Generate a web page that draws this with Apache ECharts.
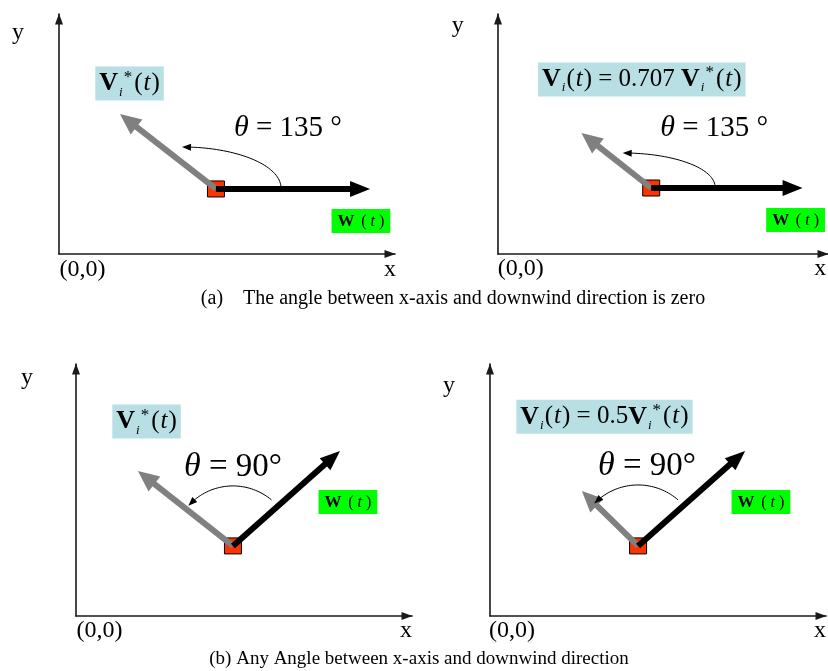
<!DOCTYPE html>
<html>
<head>
<meta charset="utf-8">
<script src="https://cdn.jsdelivr.net/npm/echarts@6/dist/echarts.min.js"></script>
<style>
html, body { margin: 0; padding: 0; background: #fff; }
#main { width: 828px; height: 671px; }
</style>
</head>
<body>
<div id="main"></div>
<script>
// panels: (a) left, (a) right, (b) left, (b) right  -- units on both axes are equal
const origins  = [[6.54, 2.71], [6.5, 2.75], [6.54, 2.92], [6.17, 2.92]];
const windTips = [[12.96, 2.71], [12.92, 2.75], [11.0, 6.88], [10.63, 6.88]];
const velTips  = [[2.54, 5.83], [3.54, 5.04], [2.58, 6.04], [3.83, 5.21]];
// angle arc: centre x, centre y, radius x, radius y, start deg, end deg
const arcs = [
  [5.125, 2.75, 4.125, 1.71, 0, 90],
  [5.29, 2.79, 3.92, 1.42, 0, 90],
  [6.54, 2.92, 2.5, 2.5, 50, 138],
  [6.17, 2.92, 2.54, 2.54, 49, 136]
];
const thetaText = ['135 °', '135 °', '90°', '90°'];
const thetaSize = [30, 30, 34, 34];
const thetaPos  = [[9.54, 5.25], [9.17, 5.25], [6.54, 6.2], [6.54, 6.23]];
const velText = [
  '{V|V}{i|i}{s|*}{p|(}{t|t}{p|)}',
  '{V|V}{i|i}{p|(}{t|t}{p|) = 0.707 }{V|V}{i|i}{s|*}{p|(}{t|t}{p|)}',
  '{V|V}{i|i}{s|*}{p|(}{t|t}{p|)}',
  '{V|V}{i|i}{p|(}{t|t}{p|) = 0.5}{V|V}{i|i}{s|*}{p|(}{t|t}{p|)}'
];
const velPos  = [[2.94, 7.1], [6.1, 7.27], [2.94, 8.1], [4.77, 8.3]];
const windPos = [[12.58, 1.375], [12.625, 1.42], [11.33, 4.75], [11.29, 4.75]];
const yNamePos = [[-1.71, 9.21], [-1.71, 9.5], [-2.04, 9.92], [-1.71, 9.6]];
const xNamePos = [[13.79, -0.67], [13.67, -0.6], [13.75, -0.625], [13.75, -0.625]];
const zeroPos  = [[0.98, -0.67], [0.96, -0.6], [0.98, -0.625], [0.92, -0.625]];
const captions = [
  '(a)    The angle between x-axis and downwind direction is zero',
  '(b) Any Angle between x-axis and downwind direction'
];

const SERIF = '"Liberation Serif", "Times New Roman", serif';
const chart = echarts.init(document.getElementById('main'));

const grids = [
  { left: 59, top: 14, width: 336, height: 240 },
  { left: 498, top: 14, width: 336, height: 240 },
  { left: 76, top: 364, width: 336, height: 252 },
  { left: 490, top: 364, width: 336, height: 252 }
];
const yMax = [10, 10, 10.5, 10.5];

function axisStyle(i, max) {
  return {
    gridIndex: i, type: 'value', min: 0, max: max,
    axisLine: {
      show: true, onZero: false,
      symbol: ['none', 'triangle'], symbolSize: [8, 11], symbolOffset: [0, -5],
      lineStyle: { color: '#1a1a1a', width: 1.6 }
    },
    axisTick: { show: false }, axisLabel: { show: false }, splitLine: { show: false }
  };
}

function arrowItem(shaft, headLen, headW, color) {
  return function (params, api) {
    const a = api.coord([api.value(0), api.value(1)]);
    const b = api.coord([api.value(2), api.value(3)]);
    const dx = b[0] - a[0], dy = b[1] - a[1];
    const len = Math.hypot(dx, dy);
    const ux = dx / len, uy = dy / len;
    const bx = b[0] - ux * headLen, by = b[1] - uy * headLen;
    return {
      type: 'group',
      children: [
        { type: 'line', shape: { x1: a[0], y1: a[1], x2: bx + ux, y2: by + uy },
          style: { stroke: color, lineWidth: shaft } },
        { type: 'polygon',
          shape: { points: [[b[0], b[1]], [bx - uy * headW / 2, by + ux * headW / 2], [bx + uy * headW / 2, by - ux * headW / 2]] },
          style: { fill: color } }
      ]
    };
  };
}

function squareItem(params, api) {
  const p = api.coord([api.value(0), api.value(1)]);
  return { type: 'rect', shape: { x: p[0] - 8.5, y: p[1] - 8, width: 17, height: 16 },
    style: { fill: '#ff3300', stroke: '#000', lineWidth: 1 } };
}

function arcItem(params, api) {
  const cx = api.value(0), cy = api.value(1), rx = api.value(2), ry = api.value(3);
  const a0 = api.value(4) * Math.PI / 180, a1 = api.value(5) * Math.PI / 180;
  const pts = [];
  for (let k = 0; k <= 40; k++) {
    const t = a0 + (a1 - a0) * k / 40;
    pts.push(api.coord([cx + rx * Math.cos(t), cy + ry * Math.sin(t)]));
  }
  const tip = pts[pts.length - 1], prev = pts[pts.length - 4];
  const dx = tip[0] - prev[0], dy = tip[1] - prev[1], l = Math.hypot(dx, dy);
  const ux = dx / l, uy = dy / l, hl = 9, hw = 7;
  const bx = tip[0] - ux * hl, by = tip[1] - uy * hl;
  return {
    type: 'group',
    children: [
      { type: 'polyline', shape: { points: pts.slice(0, -2) }, style: { stroke: '#000', lineWidth: 1, fill: null } },
      { type: 'polygon', shape: { points: [tip, [bx - uy * hw / 2, by + ux * hw / 2], [bx + uy * hw / 2, by - ux * hw / 2]] },
        style: { fill: '#000' } }
    ]
  };
}

const velRich = {
  V: { fontFamily: SERIF, fontWeight: 'bold', fontSize: 26, lineHeight: 30 },
  i: { fontFamily: SERIF, fontStyle: 'italic', fontSize: 13, verticalAlign: 'bottom', lineHeight: 14, padding: [0, 1, 0, 1] },
  s: { fontFamily: SERIF, fontSize: 17, verticalAlign: 'top', lineHeight: 15, padding: [0, 2, 0, 0] },
  p: { fontFamily: SERIF, fontSize: 25, lineHeight: 30 },
  t: { fontFamily: SERIF, fontStyle: 'italic', fontSize: 25, lineHeight: 30, padding: [0, 1, 0, 1] }
};

function textItem(getText, extra) {
  return function (params, api) {
    const p = api.coord([api.value(0), api.value(1)]);
    return {
      type: 'text', x: p[0], y: p[1],
      style: Object.assign({ text: getText(params.seriesIndex, params.dataIndex), align: 'center',
        verticalAlign: 'middle', fill: '#000' }, extra)
    };
  };
}

const xAxes = [], yAxes = [], series = [];
for (let i = 0; i < 4; i++) {
  xAxes.push(axisStyle(i, 14));
  yAxes.push(axisStyle(i, yMax[i]));
  const ax = { xAxisIndex: i, yAxisIndex: i, silent: true, clip: false };
  series.push(Object.assign({ type: 'custom', z: 2, renderItem: squareItem, data: [origins[i]] }, ax));
  series.push(Object.assign({ type: 'custom', z: 3, renderItem: arrowItem(6, 21, 19, '#808080'),
    data: [[origins[i][0], origins[i][1], velTips[i][0], velTips[i][1]]] }, ax));
  series.push(Object.assign({ type: 'custom', z: 4, renderItem: arrowItem(6, 20, 16, '#000'),
    data: [[origins[i][0], origins[i][1], windTips[i][0], windTips[i][1]]] }, ax));
  series.push(Object.assign({ type: 'custom', z: 4, renderItem: arcItem, data: [arcs[i]] }, ax));
  series.push(Object.assign({ type: 'custom', z: 5,
    renderItem: textItem(() => '{th|θ}{r| = ' + thetaText[i] + '}', {
      rich: {
        th: { fontFamily: SERIF, fontStyle: 'italic', fontSize: thetaSize[i] },
        r: { fontFamily: SERIF, fontSize: thetaSize[i] - 1 }
      }
    }), data: [thetaPos[i]] }, ax));
  series.push(Object.assign({ type: 'custom', z: 5,
    renderItem: textItem(() => velText[i], { rich: velRich, backgroundColor: '#b8dfe3', padding: [2, 4, 2, 4] }),
    data: [velPos[i]] }, ax));
  series.push(Object.assign({ type: 'custom', z: 5,
    renderItem: textItem(() => '{W|W}  {p|(}{t| t }{p|)}', {
      backgroundColor: '#00ff00', padding: [4, 6, 3, 6],
      rich: {
        W: { fontFamily: SERIF, fontWeight: 'bold', fontSize: 17 },
        p: { fontFamily: SERIF, fontSize: 16 },
        t: { fontFamily: SERIF, fontStyle: 'italic', fontSize: 16 }
      }
    }), data: [windPos[i]] }, ax));
  const axisNames = [['y', yNamePos[i]], ['x', xNamePos[i]], ['(0,0)', zeroPos[i]]];
  series.push(Object.assign({ type: 'custom', z: 5,
    renderItem: textItem((s, d) => axisNames[d][0], { font: '24px ' + SERIF }),
    data: axisNames.map(n => n[1]) }, ax));
}

chart.setOption({
  animation: false,
  backgroundColor: '#fff',
  title: [
    { text: captions[0], left: 448, top: 284, textAlign: 'center',
      textStyle: { fontFamily: SERIF, fontWeight: 'normal', fontSize: 20, color: '#000' } },
    { text: captions[1], left: 414, top: 645, textAlign: 'center',
      textStyle: { fontFamily: SERIF, fontWeight: 'normal', fontSize: 19, color: '#000' } }
  ],
  grid: grids,
  xAxis: xAxes,
  yAxis: yAxes,
  series: series
});
</script>
</body>
</html>
